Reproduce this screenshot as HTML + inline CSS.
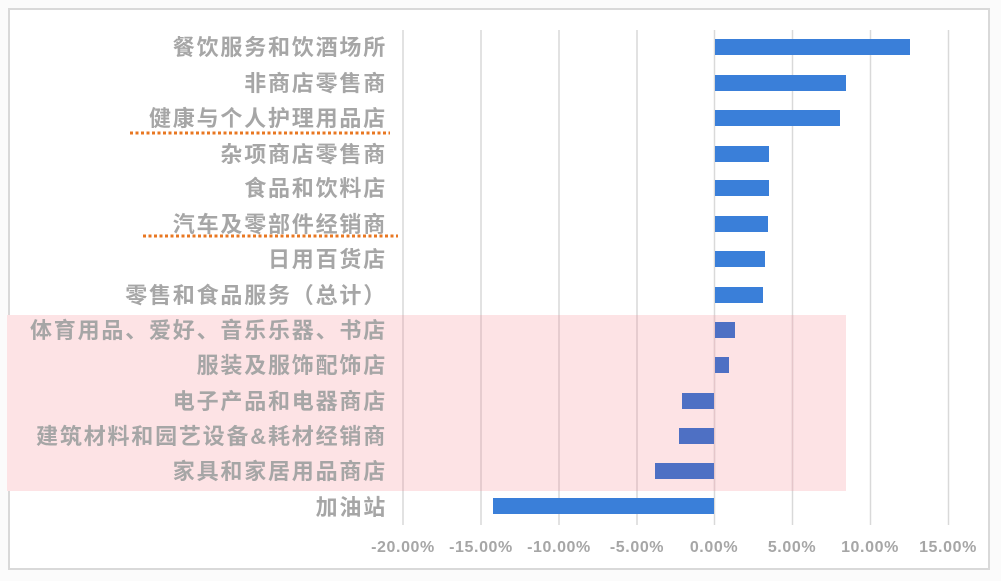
<!DOCTYPE html><html><head><meta charset="utf-8"><style>
body{margin:0;background:#fff;width:1001px;height:581px;overflow:hidden}
</style></head><body>
<svg width="1001" height="581" xmlns="http://www.w3.org/2000/svg" font-family="Liberation Sans, Noto Sans CJK SC, sans-serif">
<rect x="0" y="0" width="1001" height="581" fill="#fbfbfb"/>
<rect x="9" y="9" width="980" height="560" fill="#fff" stroke="#d9d9d9" stroke-width="2"/>
<rect x="7" y="315" width="839" height="176" fill="#fde3e5"/>
<g stroke="#d9d9d9" stroke-width="1.5">
<line x1="403" y1="30" x2="403" y2="525"/><line x1="481" y1="30" x2="481" y2="525"/>
<line x1="559" y1="30" x2="559" y2="525"/><line x1="637" y1="30" x2="637" y2="525"/>
<line x1="714.5" y1="30" x2="714.5" y2="525"/><line x1="792.5" y1="30" x2="792.5" y2="525"/>
<line x1="870.5" y1="30" x2="870.5" y2="525"/><line x1="948.5" y1="30" x2="948.5" y2="525"/>
</g>
<g stroke="#e5c6ca" stroke-width="1.5">
<line x1="403" y1="315" x2="403" y2="491"/><line x1="481" y1="315" x2="481" y2="491"/>
<line x1="559" y1="315" x2="559" y2="491"/><line x1="637" y1="315" x2="637" y2="491"/>
<line x1="714.5" y1="315" x2="714.5" y2="491"/><line x1="792.5" y1="315" x2="792.5" y2="491"/>
</g>
<g fill="#3a7fd9">
<rect x="715" y="39" width="195" height="16"/>
<rect x="715" y="75" width="131" height="16"/>
<rect x="715" y="110" width="125" height="16"/>
<rect x="715" y="146" width="54" height="16"/>
<rect x="715" y="180" width="54" height="16"/>
<rect x="715" y="216" width="53" height="16"/>
<rect x="715" y="251" width="50" height="16"/>
<rect x="715" y="287" width="48" height="16"/>
<rect x="493" y="498" width="221" height="16"/>
</g>
<g fill="#4e70c4">
<rect x="715" y="322" width="20" height="16"/>
<rect x="715" y="357" width="14" height="16"/>
<rect x="682" y="393" width="32" height="16"/>
<rect x="679" y="428" width="35" height="16"/>
<rect x="655" y="463" width="59" height="16"/>
</g>
<g fill="#a6a6a6" font-size="22" font-weight="bold" text-anchor="end" letter-spacing="1.8">
<text x="387" y="55">餐饮服务和饮酒场所</text>
<text x="387" y="91">非商店零售商</text>
<text x="387" y="126">健康与个人护理用品店</text>
<text x="387" y="162">杂项商店零售商</text>
<text x="387" y="196">食品和饮料店</text>
<text x="387" y="232">汽车及零部件经销商</text>
<text x="387" y="267">日用百货店</text>
<text x="387" y="303">零售和食品服务（总计）</text>
<text x="387" y="338">体育用品、爱好、音乐乐器、书店</text>
<text x="387" y="373">服装及服饰配饰店</text>
<text x="387" y="409">电子产品和电器商店</text>
<text x="387" y="444">建筑材料和园艺设备&amp;耗材经销商</text>
<text x="387" y="479">家具和家居用品商店</text>
<text x="387" y="515">加油站</text>
</g>
<g stroke="#e87722" stroke-width="3" stroke-dasharray="3,2.5">
<line x1="130" y1="133" x2="390" y2="133"/>
<line x1="143" y1="236" x2="398" y2="236"/>
</g>
<g fill="#a6a6a6" font-size="16" font-weight="bold" text-anchor="middle" letter-spacing="0.6">
<text x="403" y="552">-20.00%</text><text x="481" y="552">-15.00%</text>
<text x="559" y="552">-10.00%</text><text x="637" y="552">-5.00%</text>
<text x="714" y="552">0.00%</text><text x="792" y="552">5.00%</text>
<text x="870" y="552">10.00%</text><text x="948" y="552">15.00%</text>
</g>
</svg>
</body></html>
